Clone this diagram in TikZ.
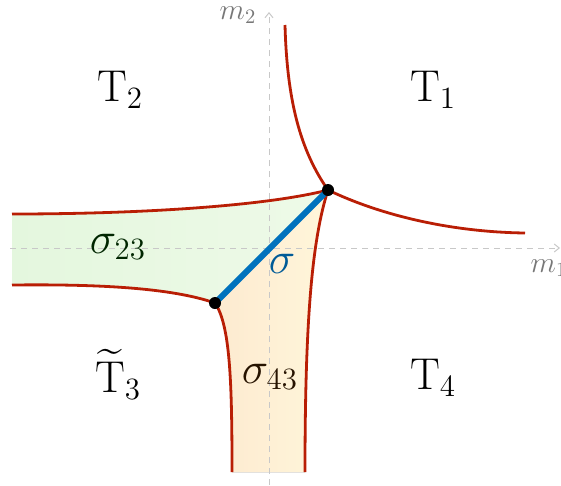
\documentclass[tikz,border=0pt]{standalone}
\usepackage{amsmath}
\usetikzlibrary{arrows.meta}
\definecolor{wallred}{RGB}{185,30,5}
\definecolor{sigblue}{RGB}{0,114,189}
\definecolor{axisgray}{RGB}{200,200,200}
\definecolor{labgray}{RGB}{120,120,120}
\definecolor{greenL}{RGB}{228,247,222}
\definecolor{greenR}{RGB}{238,250,232}
\definecolor{orangeL}{RGB}{253,234,208}
\definecolor{orangeR}{RGB}{255,246,218}
\tikzset{
  wall/.style={draw=wallred, line width=2.8pt},
  axisline/.style={draw=axisgray, line width=1pt, dash pattern=on 6pt off 5pt, -{Straight Barb[length=5pt,width=8pt]}},
  biglab/.style={font=\huge, scale=2.15},
  axlab/.style={font=\Large, scale=2.05, text=labgray},
  vdot/.style={circle, fill=black, inner sep=0pt, minimum size=12pt},
}
\begin{document}
\begin{tikzpicture}[x=1pt,y=-1pt]
\useasboundingbox (0,0) rectangle (561,485);
% coordinates
\coordinate (A) at (328,190);
\coordinate (B) at (215,303);
\coordinate (top) at (285,25);
\coordinate (right) at (525,233);
\coordinate (gu) at (12,214);
\coordinate (gl) at (12,285);
\coordinate (ol) at (232,472);
\coordinate (or) at (305,472);
% fills
\fill[left color=greenL, right color=greenR] (gu) .. controls (150,214) and (270,205) .. (A) -- (B) .. controls (172,288) and (100,284) .. (gl) -- cycle;
\fill[left color=orangeL, right color=orangeR] (B) -- (A) .. controls (312,240) and (305,320) .. (or) -- (ol) .. controls (232,380) and (230,325) .. (B) -- cycle;
% axes
\coordinate (xs) at (10,248);
\coordinate (xe) at (560,248);
\coordinate (ys) at (269,485);
\coordinate (ye) at (269,12);
\draw[axisline] (xs) -- (xe);
\draw[axisline] (ys) -- (ye);
\node[axlab] (m1) at (549,268) {$m_1$};
\node[axlab] (m2) at (238,15) {$m_2$};
% walls
\draw[wall] (top) .. controls (287,100) and (300,150) .. (A);
\draw[wall] (A) .. controls (380,215) and (450,232) .. (right);
\draw[wall] (gu) .. controls (150,214) and (270,205) .. (A);
\draw[wall] (gl) .. controls (100,284) and (172,288) .. (B);
\draw[wall] (B) .. controls (230,325) and (232,380) .. (ol);
\draw[wall] (A) .. controls (312,240) and (305,320) .. (or);
% sigma
\draw[sigblue, line width=6pt] (B) -- (A);
\node[vdot] (dA) at (A) {};
\node[vdot] (dB) at (B) {};
% labels
\node[biglab] (T1) at (433,90) {$\mathrm{T}_1$};
\node[biglab] (T2) at (120,90) {$\mathrm{T}_2$};
\node[biglab] (T3) at (118,374) {$\widetilde{\mathrm{T}}_3$};
\node[biglab] (T4) at (433,378) {$\mathrm{T}_4$};
\node[biglab, text=black!85!green] (s23) at (118,247) {$\sigma_{23}$};
\node[biglab, text=black!85!orange] (s43) at (270,377) {$\sigma_{43}$};
\node[biglab, text=sigblue!80!black] (s) at (282,264) {$\sigma$};
\end{tikzpicture}
\end{document}
